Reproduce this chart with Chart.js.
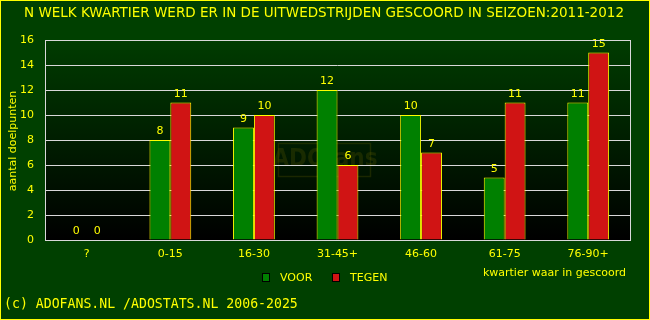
<!DOCTYPE html>
<html>
<head>
<meta charset="utf-8">
<script src="https://cdn.jsdelivr.net/npm/chart.js@4"></script>
<style>
  html, body { margin: 0; padding: 0; background: #004000; }
  canvas { display: block; }
</style>
</head>
<body>
<canvas id="chart" width="650" height="320"></canvas>
<script>
// chart data
const categories = ['?', '0-15', '16-30', '31-45+', '46-60', '61-75', '76-90+'];
const voorValues = [0, 8, 9, 12, 10, 5, 11];
const tegenValues = [0, 11, 10, 6, 7, 11, 15];
const seriesNames = ['VOOR', 'TEGEN'];
const yTicks = [0, 2, 4, 6, 8, 10, 12, 14, 16];

const titleText = 'N WELK KWARTIER WERD ER IN DE UITWEDSTRIJDEN GESCOORD IN SEIZOEN:2011-2012';
const yTitle = 'aantal doelpunten';
const xTitle = 'kwartier waar in gescoord';
const footerText = '(c) ADOFANS.NL /ADOSTATS.NL 2006-2025';

const YELLOW = '#ffff00';
const FONT = '"DejaVu Sans", sans-serif';

// Background, frame, titles, value labels, legend
const decorPlugin = {
    id: 'decor',
    beforeDraw(chart) {
        const { ctx, chartArea: a } = chart;
        ctx.save();
        ctx.fillStyle = '#004000';
        ctx.fillRect(0, 0, chart.width, chart.height);
        const g = ctx.createLinearGradient(0, a.top, 0, a.bottom);
        g.addColorStop(0, '#003c00');
        g.addColorStop(1, '#000000');
        ctx.fillStyle = g;
        ctx.fillRect(a.left, a.top, a.right - a.left, a.bottom - a.top);

        // faint watermark
        ctx.strokeStyle = 'rgba(90,90,0,0.3)';
        ctx.lineWidth = 1.5;
        ctx.strokeRect(278.5, 143.5, 92, 33);
        ctx.fillStyle = 'rgba(90,90,0,0.28)';
        ctx.font = 'bold 24px "DejaVu Sans Condensed", sans-serif';
        ctx.textAlign = 'center';
        ctx.textBaseline = 'middle';
        ctx.fillText('ADOfans', 325, 160);
        ctx.restore();
    },
    afterDraw(chart) {
        const { ctx, chartArea: a } = chart;
        ctx.save();
        // plot frame
        ctx.strokeStyle = '#d8d8d8';
        ctx.lineWidth = 1;
        ctx.strokeRect(Math.round(a.left) + 0.5, Math.round(a.top) + 0.5,
            Math.round(a.right - a.left), Math.round(a.bottom - a.top));

        ctx.fillStyle = YELLOW;
        // title
        ctx.font = '13.5px ' + FONT;
        ctx.textAlign = 'center';
        ctx.textBaseline = 'middle';
        ctx.fillText(titleText, 324, 13);

        // y title
        ctx.font = '11px ' + FONT;
        ctx.save();
        ctx.translate(13, 141);
        ctx.rotate(-Math.PI / 2);
        ctx.fillText(yTitle, 0, 0);
        ctx.restore();

        // x title
        ctx.textAlign = 'right';
        ctx.fillText(xTitle, 626, 273);

        // footer
        ctx.textAlign = 'left';
        ctx.font = '13.2px "DejaVu Sans Mono", monospace';
        ctx.fillText(footerText, 4, 305);

        // legend
        ctx.font = '11px ' + FONT;
        const legendX = [262, 332];
        chart.data.datasets.forEach((ds, i) => {
            const x = legendX[i];
            ctx.fillStyle = ds.backgroundColor;
            ctx.fillRect(x, 273, 7, 8);
            ctx.strokeStyle = '#000000';
            ctx.strokeRect(x + 0.5, 273.5, 7, 8);
            ctx.fillStyle = YELLOW;
            ctx.textAlign = 'left';
            ctx.fillText(ds.label, x + 18, 278);
        });

        // outer border
        ctx.strokeStyle = YELLOW;
        ctx.strokeRect(0.5, 0.5, chart.width - 1, chart.height - 1);
        ctx.restore();
    },
    afterDatasetsDraw(chart) {
        const { ctx } = chart;
        ctx.save();
        ctx.fillStyle = YELLOW;
        ctx.font = '11px ' + FONT;
        ctx.textAlign = 'center';
        ctx.textBaseline = 'bottom';
        chart.data.datasets.forEach((ds, i) => {
            chart.getDatasetMeta(i).data.forEach((bar, j) => {
                ctx.fillText(String(ds.data[j]), bar.x, bar.y - 3);
            });
        });
        ctx.restore();
    }
};

new Chart(document.getElementById('chart'), {
    type: 'bar',
    data: {
        labels: categories,
        datasets: [{
            label: seriesNames[0],
            data: voorValues,
            backgroundColor: '#008000',
            borderColor: YELLOW,
            borderWidth: 1,
            borderSkipped: 'bottom'
        }, {
            label: seriesNames[1],
            data: tegenValues,
            backgroundColor: '#d01414',
            borderColor: YELLOW,
            borderWidth: 1,
            borderSkipped: 'bottom'
        }]
    },
    options: {
        responsive: false,
        animation: false,
        devicePixelRatio: 1,
        categoryPercentage: 0.5,
        barPercentage: 1.0,
        layout: { padding: { left: 0, top: 40, right: 20, bottom: 0 } },
        plugins: {
            legend: { display: false },
            tooltip: { enabled: false }
        },
        scales: {
            x: {
                grid: { display: false, drawTicks: false },
                border: { display: false },
                ticks: { color: YELLOW, font: { family: FONT, size: 11 }, padding: 8, maxRotation: 0 },
                afterFit(scale) { scale.height = 80; }
            },
            y: {
                min: 0,
                max: 16,
                afterBuildTicks(scale) { scale.ticks = yTicks.map(v => ({ value: v })); },
                grid: { color: '#d8d8d8', drawTicks: false },
                border: { display: false },
                ticks: { color: YELLOW, font: { family: FONT, size: 11 }, padding: 11 },
                afterFit(scale) { scale.width = 45; }
            }
        }
    },
    plugins: [decorPlugin]
});
</script>
</body>
</html>
